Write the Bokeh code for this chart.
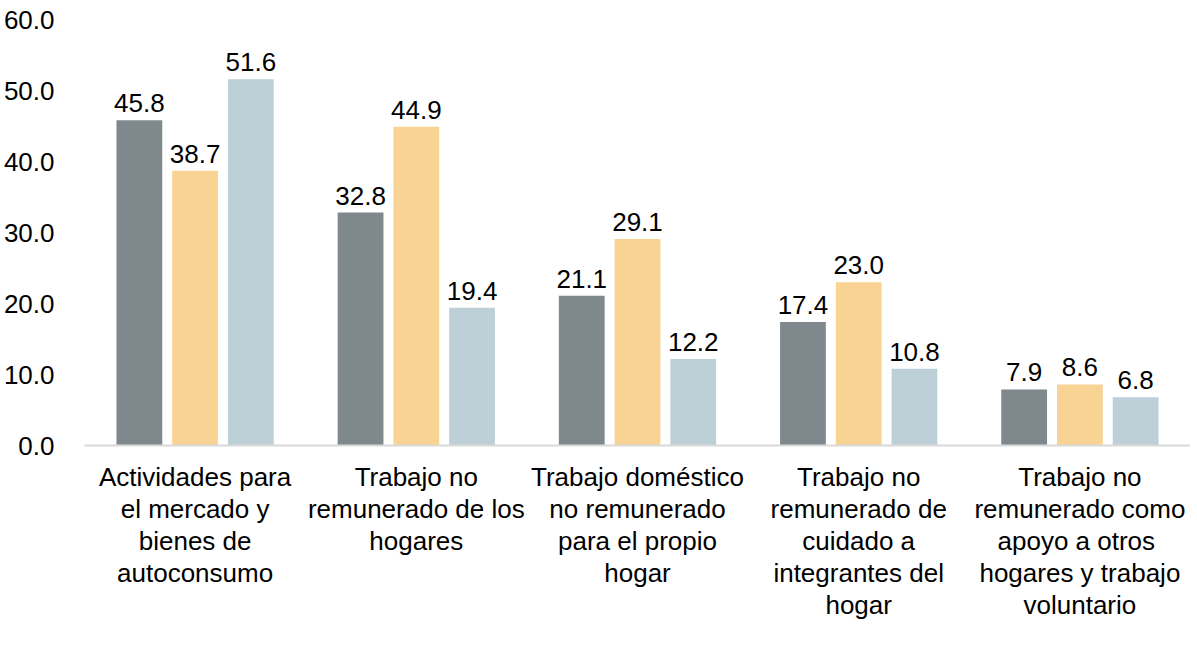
from bokeh.plotting import figure
from bokeh.models import FactorRange, ColumnDataSource, FixedTicker, Legend, LegendItem, NumeralTickFormatter
from bokeh.transform import dodge
from bokeh.core.properties import value
from bokeh.embed import file_html
from bokeh.resources import INLINE

categories = [
    "Actividades para\nel mercado y\nbienes de\nautoconsumo",
    "Trabajo no\nremunerado de los\nhogares",
    "Trabajo doméstico\nno remunerado\npara el propio\nhogar",
    "Trabajo no\nremunerado de\ncuidado a\nintegrantes del\nhogar",
    "Trabajo no\nremunerado como\napoyo  a otros\nhogares y trabajo\nvoluntario",
]
series_names = ["Total", "Mujeres", "Hombres"]
total = [45.8, 32.8, 21.1, 17.4, 7.9]
mujeres = [38.7, 44.9, 29.1, 23.0, 8.6]
hombres = [51.6, 19.4, 12.2, 10.8, 6.8]
y_ticks = [0, 10, 20, 30, 40, 50, 60]

colors = ["#7e888d", "#f8d393", "#bdd0d8"]
FONT = "Liberation Sans"
FS = "26px"

p = figure(x_range=FactorRange(*categories), y_range=(0, 60),
           frame_width=1106, frame_height=426, output_backend="svg", toolbar_location=None,
           min_border_left=79, min_border_right=0, min_border_top=19, min_border_bottom=0)
p.outline_line_color = None
p.xgrid.grid_line_color = None
p.ygrid.grid_line_color = None

src = ColumnDataSource(dict(cat=categories, Total=total, Mujeres=mujeres, Hombres=hombres,
                            lt=["%.1f" % v for v in total],
                            lm=["%.1f" % v for v in mujeres],
                            lh=["%.1f" % v for v in hombres]))

offsets = [-0.252, 0.0, 0.252]
labcols = ["lt", "lm", "lh"]
items = []
for name, col, off, lc in zip(series_names, colors, offsets, labcols):
    r = p.vbar(x=dodge("cat", off, range=p.x_range), top=name, width=0.207,
               source=src, fill_color=col, line_color=None)
    p.text(x=dodge("cat", off, range=p.x_range), y=name, text=lc, source=src,
           text_align="center", text_baseline="bottom", y_offset=-8,
           text_font=value(FONT), text_font_size=FS, text_color="#000000")
    items.append(LegendItem(label=name, renderers=[r]))

p.yaxis.ticker = FixedTicker(ticks=y_ticks)
p.yaxis.formatter = NumeralTickFormatter(format="0.0")
p.yaxis.axis_line_color = None
p.yaxis.major_tick_line_color = None
p.yaxis.minor_tick_line_color = None
p.yaxis.major_label_text_font = FONT
p.yaxis.major_label_text_font_size = FS
p.yaxis.major_label_text_color = "#000000"
p.yaxis.major_label_standoff = 24

p.xaxis.axis_line_color = "#d9d9d9"
p.xaxis.axis_line_width = 2
p.xaxis.major_tick_line_color = None
p.xaxis.minor_tick_line_color = None
p.xaxis.major_tick_out = 0
p.xaxis.major_tick_in = 0
p.xaxis.major_label_text_font = FONT
p.xaxis.major_label_text_font_size = FS
p.xaxis.major_label_text_color = "#000000"
p.xaxis.major_label_text_line_height = 1.07
p.xaxis.major_label_standoff = 16
p.xaxis.major_label_orientation = "horizontal"

legend = Legend(items=items, orientation="horizontal", location="center",
                label_text_font=FONT, label_text_font_size=FS, label_text_color="#000000",
                glyph_width=14, glyph_height=14, spacing=22, label_standoff=5,
                border_line_color=None, background_fill_alpha=0, padding=0, margin=0)
p.add_layout(legend, "below")

open("out.html", "w").write(file_html(p, INLINE))
